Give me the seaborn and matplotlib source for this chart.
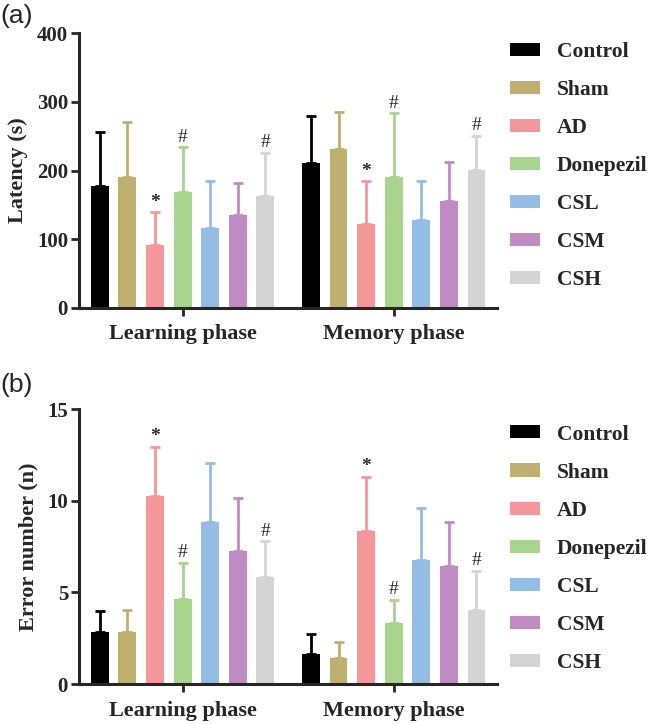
import matplotlib
matplotlib.use('Agg')

import numpy as np
import pandas as pd
import matplotlib.pyplot as plt
import seaborn as sns

# Groups, phases and colours
groups = ['Control', 'Sham', 'AD', 'Donepezil', 'CSL', 'CSM', 'CSH']
phases = ['Learning phase', 'Memory phase']
colors = ['#000000', '#BFB06F', '#F4979B', '#A8D48E', '#93BDE5', '#C08BC3', '#D4D4D4']

# (a) latency, mean and upper error bar end (s)
lat_learn = [178, 190, 91, 169, 116, 135, 163]
lat_learn_top = [256, 270, 139, 234, 184, 182, 226]
lat_mem = [211, 232, 122, 191, 128, 155, 201]
lat_mem_top = [280, 286, 184, 284, 185, 212, 251]

# (b) error number, mean and upper error bar end
err_learn = [2.83, 2.83, 10.25, 4.65, 8.85, 7.25, 5.85]
err_learn_top = [4.0, 4.07, 12.95, 6.63, 12.08, 10.13, 7.78]
err_mem = [1.63, 1.45, 8.33, 3.32, 6.75, 6.45, 4.05]
err_mem_top = [2.72, 2.32, 11.31, 4.59, 9.59, 8.86, 6.17]

# significance marks per phase
marks_learn = ['', '', '*', '#', '', '', '#']
marks_mem = ['', '', '*', '#', '', '', '#']

sns.set_style('ticks')
plt.rcParams['font.family'] = ['Liberation Serif', 'DejaVu Serif']
plt.rcParams['font.weight'] = 'bold'


def make_df(learn, mem, learn_top, mem_top):
    rows = []
    for i, g in enumerate(groups):
        rows.append({'phase': phases[0], 'group': g, 'value': learn[i], 'top': learn_top[i]})
        rows.append({'phase': phases[1], 'group': g, 'value': mem[i], 'top': mem_top[i]})
    return pd.DataFrame(rows)


def draw_panel(ax, df, ylim, yticks, ylabel, mark_off, leg_y):
    sns.barplot(data=df, x='phase', y='value', hue='group', order=phases,
                hue_order=groups, palette=colors, saturation=1, width=0.915,
                gap=0.35, errorbar=None, ax=ax, linewidth=0)
    bar_sets = list(ax.containers)
    for gi, cont in enumerate(bar_sets):
        g = groups[gi]
        for pi, bar in enumerate(cont):
            xc = bar.get_x() + bar.get_width() / 2
            h = bar.get_height()
            top = df[(df.group == g) & (df.phase == phases[pi])]['top'].iloc[0]
            ax.errorbar(xc, h, yerr=[[0], [top - h]], color=colors[gi],
                        elinewidth=2, capsize=3.6, capthick=2, zorder=1)
            m = (marks_learn if pi == 0 else marks_mem)[gi]
            if m:
                ax.text(xc, top + mark_off, m, ha='center', va='bottom',
                        fontsize=14, fontweight='bold' if m == '*' else 'normal')
    ax.set_xlim(-0.49, 1.49)
    ax.set_ylim(*ylim)
    ax.set_yticks(yticks)
    ax.set_xlabel('')
    ax.set_ylabel(ylabel, fontsize=16, fontweight='bold', labelpad=6)
    ax.tick_params(axis='y', labelsize=15, width=2, length=6, pad=2)
    ax.tick_params(axis='x', labelsize=16, width=2, length=6, pad=6)
    for lab in ax.get_xticklabels() + ax.get_yticklabels():
        lab.set_fontweight('bold')
    for s in ['left', 'bottom']:
        ax.spines[s].set_linewidth(2.2)
    sns.despine(ax=ax)
    ax.legend(loc='upper left', bbox_to_anchor=(1.011, leg_y), frameon=False,
              fontsize=15.5, handlelength=1.4, handleheight=0.56,
              handletextpad=0.76, labelspacing=0.84, borderaxespad=0)
    for t in ax.get_legend().get_texts():
        t.set_fontweight('bold')


fig = plt.figure(figsize=(6.49, 7.24), dpi=100)
ax1 = fig.add_axes([0.122, 0.575, 0.644, 0.379])
ax2 = fig.add_axes([0.122, 0.055, 0.644, 0.380])

draw_panel(ax1, make_df(lat_learn, lat_mem, lat_learn_top, lat_mem_top),
           (0, 400), [0, 100, 200, 300, 400], 'Latency (s)', 2, 1.0)
draw_panel(ax2, make_df(err_learn, err_mem, err_learn_top, err_mem_top),
           (0, 15), [0, 5, 10, 15], 'Error number (n)', 0.1, 0.975)

fig.text(0.0, 0.978, '(a)', fontsize=19, family='Liberation Sans',
         fontweight='normal', va='center')
fig.text(0.0, 0.468, '(b)', fontsize=19, family='Liberation Sans',
         fontweight='normal', va='center')

fig.savefig('out.png', dpi=100)
